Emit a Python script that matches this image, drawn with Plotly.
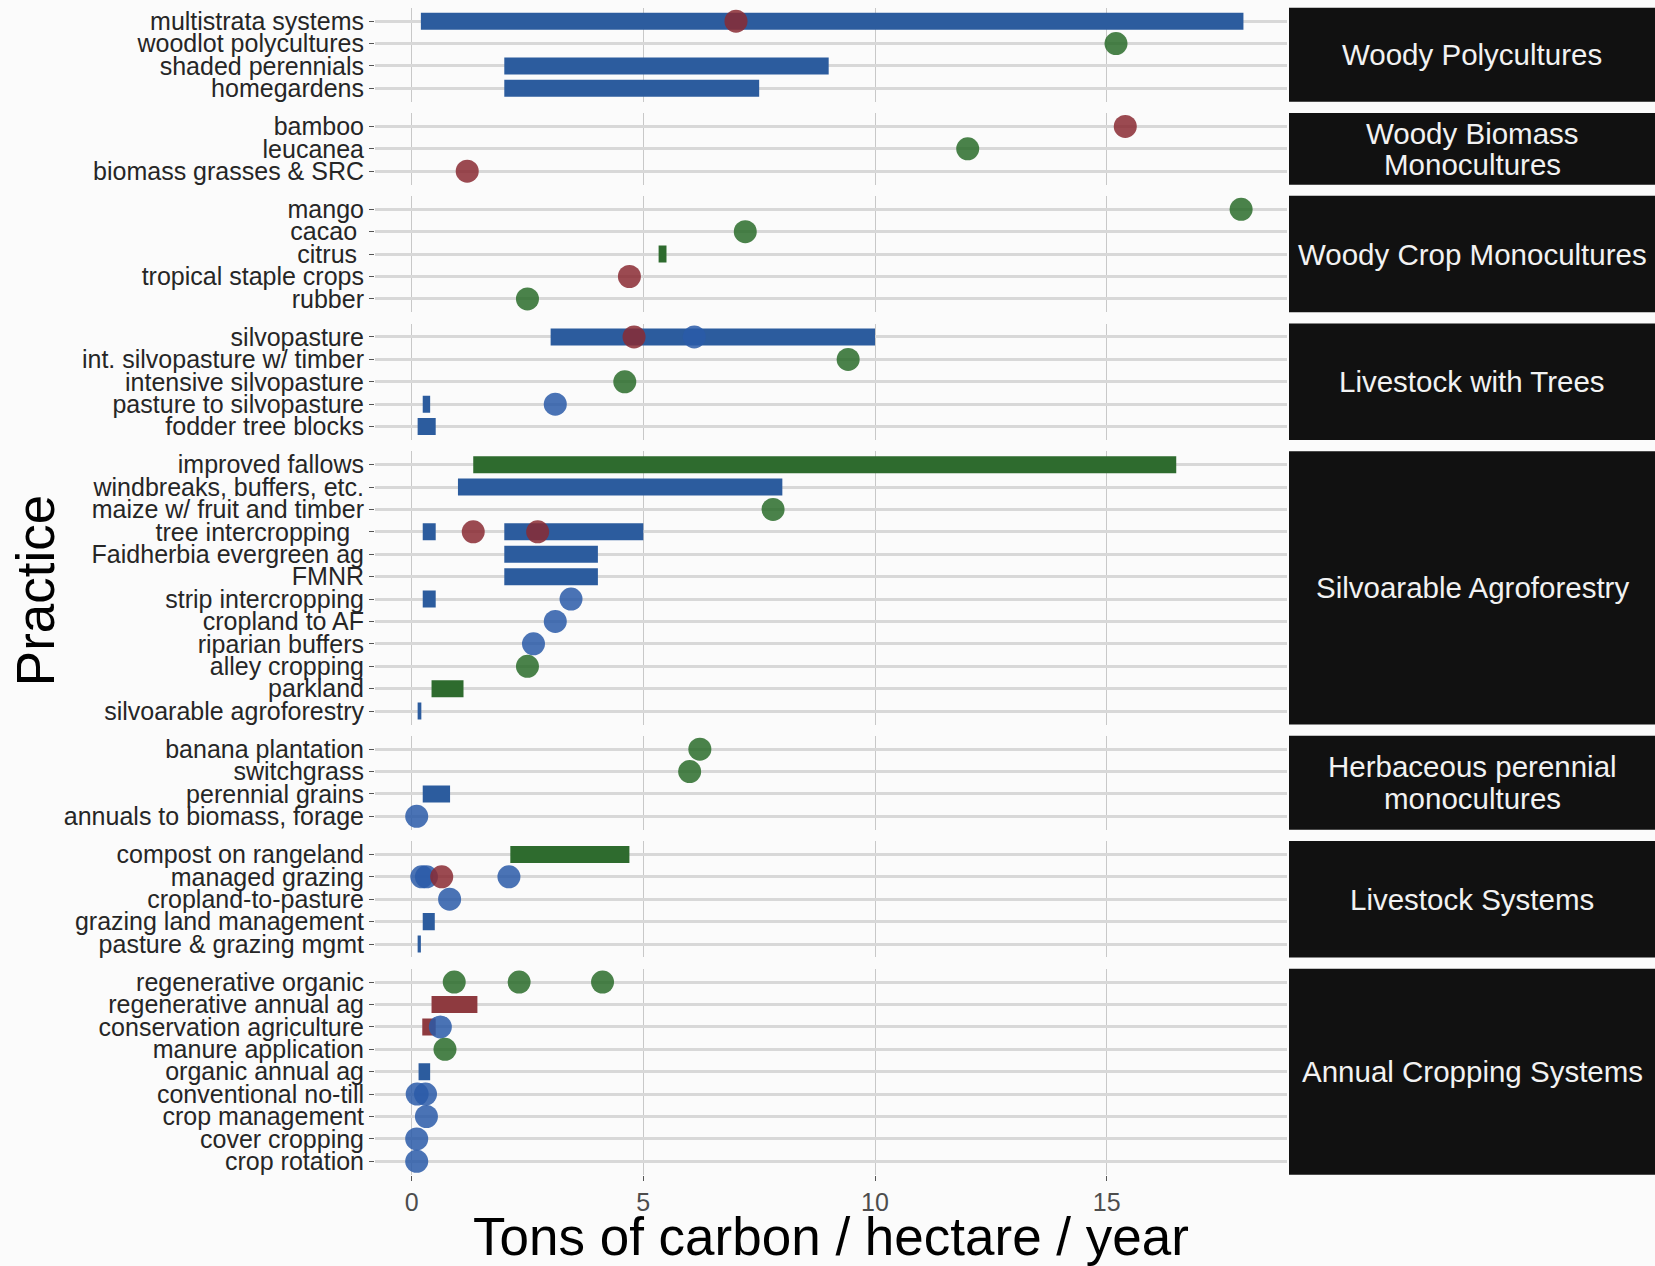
import plotly.graph_objects as go

W, H = 1655, 1266

# ---- facets and practices (top to bottom) ----
facet_names = [
    ["Woody Polycultures"],
    ["Woody Biomass", "Monocultures"],
    ["Woody Crop Monocultures"],
    ["Livestock with Trees"],
    ["Silvoarable Agroforestry"],
    ["Herbaceous perennial", "monocultures"],
    ["Livestock Systems"],
    ["Annual Cropping Systems"],
]

NB = "\u00a0"
facet_practices = [
    ["multistrata systems", "woodlot polycultures", "shaded perennials", "homegardens"],
    ["bamboo", "leucanea", "biomass grasses & SRC"],
    ["mango", "cacao" + NB, "citrus" + NB, "tropical staple crops", "rubber"],
    ["silvopasture", "int. silvopasture w/ timber", "intensive silvopasture",
     "pasture to silvopasture", "fodder tree blocks"],
    ["improved fallows", "windbreaks, buffers, etc.", "maize w/ fruit and timber",
     "tree intercropping" + NB + NB, "Faidherbia evergreen ag", "FMNR",
     "strip intercropping", "cropland to AF", "riparian buffers", "alley cropping",
     "parkland", "silvoarable agroforestry"],
    ["banana plantation", "switchgrass", "perennial grains", "annuals to biomass, forage"],
    ["compost on rangeland", "managed grazing", "cropland-to-pasture",
     "grazing land management", "pasture & grazing mgmt"],
    ["regenerative organic", "regenerative annual ag", "conservation agriculture",
     "manure application", "organic annual ag", "conventional no-till",
     "crop management", "cover cropping", "crop rotation"],
]

# ---- sequestration ranges (t C / ha / yr) ----
bar_practice = [
    "multistrata systems", "shaded perennials", "homegardens",
    "citrus" + NB,
    "silvopasture", "pasture to silvopasture", "fodder tree blocks",
    "improved fallows", "windbreaks, buffers, etc.",
    "tree intercropping" + NB + NB, "tree intercropping" + NB + NB,
    "Faidherbia evergreen ag", "FMNR", "strip intercropping", "parkland",
    "silvoarable agroforestry",
    "perennial grains",
    "compost on rangeland", "grazing land management", "pasture & grazing mgmt",
    "regenerative annual ag", "conservation agriculture", "organic annual ag",
]
bar_start = [0.2, 2.0, 2.0,
             5.33,
             3.0, 0.24, 0.13,
             1.33, 1.0,
             0.24, 2.0,
             2.0, 2.0, 0.24, 0.43,
             0.13,
             0.24,
             2.13, 0.24, 0.13,
             0.43, 0.23, 0.15]
bar_end = [17.95, 9.0, 7.5,
           5.5,
           10.0, 0.40, 0.52,
           16.5, 8.0,
           0.52, 5.0,
           4.02, 4.02, 0.52, 1.12,
           0.21,
           0.83,
           4.7, 0.5, 0.2,
           1.42, 0.52, 0.4]
bar_group = ["blue", "blue", "blue",
             "green",
             "blue", "blue", "blue",
             "green", "blue",
             "blue", "blue",
             "blue", "blue", "blue", "green",
             "blue",
             "blue",
             "green", "blue", "blue",
             "red", "red", "blue"]

# ---- single estimates (t C / ha / yr) ----
point_practice = [
    "multistrata systems", "woodlot polycultures",
    "bamboo", "leucanea", "biomass grasses & SRC",
    "mango", "cacao" + NB, "tropical staple crops", "rubber",
    "silvopasture", "silvopasture", "int. silvopasture w/ timber",
    "intensive silvopasture", "pasture to silvopasture",
    "maize w/ fruit and timber", "tree intercropping" + NB + NB,
    "tree intercropping" + NB + NB, "strip intercropping", "cropland to AF",
    "riparian buffers", "alley cropping",
    "banana plantation", "switchgrass", "annuals to biomass, forage",
    "managed grazing", "managed grazing", "managed grazing", "managed grazing",
    "cropland-to-pasture",
    "regenerative organic", "regenerative organic", "regenerative organic",
    "conservation agriculture", "manure application",
    "conventional no-till", "conventional no-till",
    "crop management", "cover cropping", "crop rotation",
]
point_value = [
    7.0, 15.2,
    15.4, 12.0, 1.2,
    17.9, 7.2, 4.7, 2.5,
    4.8, 6.1, 9.42,
    4.6, 3.1,
    7.8, 1.33,
    2.72, 3.44, 3.1,
    2.63, 2.5,
    6.22, 6.0, 0.11,
    0.22, 0.32, 0.65, 2.1,
    0.82,
    0.92, 2.32, 4.12,
    0.62, 0.72,
    0.12, 0.3,
    0.32, 0.11, 0.11,
]
point_group = [
    "red", "green",
    "red", "green", "red",
    "green", "green", "red", "green",
    "red", "blue", "green",
    "green", "blue",
    "green", "red",
    "red", "blue", "blue",
    "blue", "green",
    "green", "green", "blue",
    "blue", "blue", "red", "blue",
    "blue",
    "green", "green", "green",
    "blue", "green",
    "blue", "blue",
    "blue", "blue", "blue",
]

bar_colors = {"blue": "#2C5C9E", "green": "#2E6B2E", "red": "#8E3A3F"}
point_colors = {"blue": "#2A5BA8", "green": "#2A6C2A", "red": "#8A2A33"}

# ---- page geometry (pixels) ----
PANEL_LEFT, PANEL_RIGHT = 375, 1287
STRIP_LEFT = 1289
TOP = 7.7
ROW = 22.4
GAP = 11.2
X_RANGE = [-0.79, 18.89]
STRIP_LINE = 31.5
FONT = "Liberation Sans, Arial, Helvetica, sans-serif"

# which facet / row each practice belongs to
where = {}
for k, plist in enumerate(facet_practices):
    for i, p in enumerate(plist):
        where[p] = (k, i)

fig = go.Figure()
layout = {}
shapes = []
annotations = []

y_top = TOP
for k, plist in enumerate(facet_practices):
    n = len(plist)
    suffix = "" if k == 0 else str(k + 1)
    xa, ya = "x" + suffix, "y" + suffix
    y_bot = y_top + (n + 0.2) * ROW
    dom = [1 - y_bot / H, 1 - y_top / H]
    last = k == len(facet_practices) - 1

    layout["yaxis" + suffix] = dict(
        domain=dom, anchor=xa, range=[n - 1 + 0.6, -0.6],
        tickmode="array", tickvals=list(range(n)), ticktext=plist,
        showgrid=True, gridcolor="#D8D8D8", gridwidth=2.6, zeroline=False,
        ticks="outside", ticklen=5, tickwidth=1.3, tickcolor="#555555",
        tickfont=dict(family=FONT, size=25, color="#262626"),
        showline=False, fixedrange=True,
    )
    layout["xaxis" + suffix] = dict(
        domain=[PANEL_LEFT / W, PANEL_RIGHT / W], anchor=ya, range=X_RANGE,
        tickmode="array", tickvals=[0, 5, 10, 15], ticktext=["0", "5", "10", "15"],
        showgrid=True, gridcolor="#C8C8C8", gridwidth=1.2, zeroline=False,
        showticklabels=last, ticks="outside" if last else "", ticklen=5,
        tickwidth=1.3, tickcolor="#555555",
        tickfont=dict(family=FONT, size=25, color="#4D4D4D"),
        showline=False, fixedrange=True,
    )

    # facet strip on the right
    shapes.append(dict(type="rect", xref="paper", yref="paper",
                       x0=STRIP_LEFT / W, x1=1.0, y0=dom[0], y1=dom[1],
                       fillcolor="#111111", line=dict(width=0), layer="below"))
    centre_px = (y_top + y_bot) / 2
    lines = facet_names[k]
    for li, txt in enumerate(lines):
        off = (li - (len(lines) - 1) / 2) * STRIP_LINE
        annotations.append(dict(xref="paper", yref="paper",
                                x=(STRIP_LEFT + W) / 2 / W,
                                y=1 - (centre_px + off) / H,
                                text=txt, showarrow=False,
                                font=dict(family=FONT, size=29.5, color="#F2F2F2"),
                                xanchor="center", yanchor="middle"))

    # range bars in this facet
    for grp in ["blue", "green", "red"]:
        idx = [j for j, p in enumerate(bar_practice)
               if where[p][0] == k and bar_group[j] == grp]
        if idx:
            fig.add_trace(go.Bar(
                orientation="h",
                y=[where[bar_practice[j]][1] for j in idx],
                base=[bar_start[j] for j in idx],
                x=[bar_end[j] - bar_start[j] for j in idx],
                width=0.76, marker=dict(color=bar_colors[grp], line=dict(width=0)),
                xaxis=xa, yaxis=ya, hoverinfo="skip",
            ))
    # point estimates in this facet
    for grp in ["blue", "green", "red"]:
        idx = [j for j, p in enumerate(point_practice)
               if where[p][0] == k and point_group[j] == grp]
        if idx:
            fig.add_trace(go.Scatter(
                mode="markers",
                x=[point_value[j] for j in idx],
                y=[where[point_practice[j]][1] for j in idx],
                marker=dict(size=23, color=point_colors[grp], opacity=0.85,
                            line=dict(width=0)),
                xaxis=xa, yaxis=ya, hoverinfo="skip",
            ))

    y_top = y_bot + GAP

panel_bottom = y_top - GAP

# axis titles
annotations.append(dict(xref="paper", yref="paper",
                        x=(PANEL_LEFT + PANEL_RIGHT) / 2 / W, y=1 - 1236 / H,
                        text="Tons of carbon / hectare / year", showarrow=False,
                        font=dict(family=FONT, size=53, color="#000000"),
                        xanchor="center", yanchor="middle"))
annotations.append(dict(xref="paper", yref="paper",
                        x=35 / W, y=1 - (TOP + panel_bottom) / 2 / H,
                        text="Practice", textangle=-90, showarrow=False,
                        font=dict(family=FONT, size=53, color="#000000"),
                        xanchor="center", yanchor="middle"))

fig.update_layout(
    width=W, height=H, autosize=False,
    margin=dict(l=0, r=0, t=0, b=0),
    paper_bgcolor="#FBFBFB", plot_bgcolor="#FBFBFB",
    showlegend=False, barmode="overlay",
    shapes=shapes, annotations=annotations,
    font=dict(family=FONT),
    **layout,
)

fig.write_html("out.html")
